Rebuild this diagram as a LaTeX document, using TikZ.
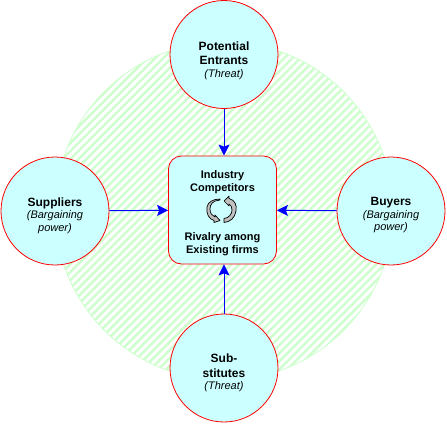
\documentclass[tikz,border=0pt]{standalone}
\usepackage{fontspec}
\setmainfont{Liberation Sans}
\usepackage{xcolor}
\usepackage{tikz}
\usetikzlibrary{arrows.meta,patterns.meta}
\definecolor{pgreen}{HTML}{CCFFCC}
\definecolor{pcyan}{HTML}{CCFFFF}
\definecolor{pred}{HTML}{FF0000}
\definecolor{pblue}{HTML}{0000FF}
\definecolor{pgrey}{HTML}{C0C0C0}
\newcommand{\sublbl}[1]{{\fontsize{11}{12}\selectfont\itshape\mdseries #1}}
\begin{document}
\begin{tikzpicture}[x=1pt,y=-1pt,line width=.8pt,
  c/.style={circle,draw=pred,fill=pcyan,minimum size=108pt,inner sep=0pt},
  lbl/.style={align=center,font=\fontsize{12}{14.5}\selectfont\bfseries},
  core/.style={rectangle,draw=pred,fill=pcyan,rounded corners=13pt,minimum size=108pt,inner sep=0pt},
  mid/.style={align=center,font=\fontsize{11}{13}\selectfont\bfseries},
  a/.style={-{Stealth[length=11pt,width=11pt,inset=2pt]},pblue,line width=1pt},
  swirl/.style={draw=black,fill=pgrey,line width=.7pt,line join=round}]
\useasboundingbox (0,0) rectangle (447,423);
% --- hatched disc behind everything ---
\fill[pattern={Lines[angle=45,distance=5.7pt,line width=2.4pt]},pattern color=pgreen] (224,211) circle (169);
\draw[pgreen] (224,211) circle (169);
% --- the five forces ---
\node[core] (rivalry) at (222.5,210) {};
\node[c] (entrants) at (224,54.5) {};
\node[c] (suppliers) at (55,211) {};
\node[c] (buyers) at (391,211) {};
\node[c] (substitutes) at (224,368) {};
\draw[a] (entrants)--(entrants|-rivalry.north);
\draw[a] (suppliers)--(rivalry);
\draw[a] (buyers)--(rivalry);
\draw[a] (substitutes)--(substitutes|-rivalry.south);
% --- labels sit low in the circles ---
\node[lbl] (entrantslbl) at (224,60.5) {Potential\\Entrants\\[-2pt]\sublbl{(Threat)}};
\node[lbl] (supplierslbl) at (55,215.5) {Suppliers\\[-2pt]\sublbl{(Bargaining}\\[-2pt]\sublbl{power)}};
\node[lbl] (buyerslbl) at (391,215.5) {Buyers\\[-2pt]\sublbl{(Bargaining}\\[-2pt]\sublbl{power)}};
\node[lbl] (substituteslbl) at (224,373) {Sub-\\stitutes\\[-2pt]\sublbl{(Threat)}};
% --- text and swirl in the middle box ---
\node[mid] (top) at (222.5,182.5) {Industry\\Competitors};
\node[mid] (bottom) at (222.5,244) {Rivalry among\\Existing firms};
\draw[swirl] (220,200) .. controls (213,200.5) and (210,204) .. (210,209) .. controls (210,213) and (212,216) .. (215,217) -- (215,215) -- (220,220.5) -- (214,222.5) -- (214,220.5) .. controls (209,219) and (206,214) .. (207,207) .. controls (208,202) and (213,199) .. (220,199) -- cycle;
\draw[swirl] (224,201) -- (229,196) -- (229,198.5) .. controls (235,200) and (237,205) .. (236,211) .. controls (235,218) and (230,222) .. (224,222.5) -- (224,218.5) .. controls (229,218) and (232,214) .. (232,210) .. controls (232,207) and (231,205) .. (229,204) -- (229,206) -- cycle;
\end{tikzpicture}
\end{document}
